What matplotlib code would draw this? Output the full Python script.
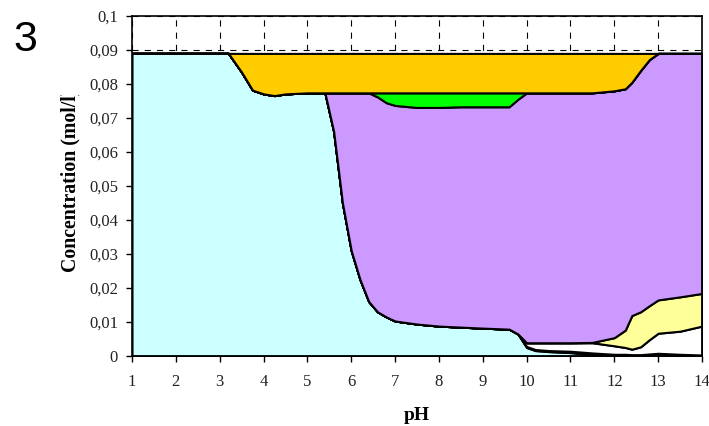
import numpy as np
import matplotlib
matplotlib.use("Agg")
import matplotlib.pyplot as plt
from matplotlib.transforms import Bbox, TransformedBbox
from matplotlib.ticker import FuncFormatter, MultipleLocator

# pH grid and concentration of each species (mol/l), stacked bottom to top
ph = [1, 2, 3, 3.2, 3.5, 3.75, 4, 4.25, 4.5, 5,
      5.4, 5.6, 5.8, 6, 6.2, 6.4, 6.6, 6.8, 7, 7.5,
      8, 8.5, 9, 9.6, 9.8, 10, 10.2, 10.5, 11, 11.5,
      12, 12.25, 12.4, 12.6, 12.8, 13, 13.5, 14]

cyan = [0.089, 0.089, 0.089, 0.089, 0.0835, 0.0782, 0.0771, 0.0766, 0.0771, 0.0774,
        0.0774, 0.066, 0.045, 0.031, 0.0225, 0.016, 0.013, 0.0115, 0.0103, 0.0094,
        0.0088, 0.0085, 0.0082, 0.0079, 0.0065, 0.0025, 0.0016, 0.0013, 0.0010, 0.0004,
        0, 0, 0, 0, 0, 0, 0, 0]

dark = [0, 0, 0, 0, 0, 0, 0, 0, 0, 0,
        0, 0, 0, 0, 0, 0, 0, 0, 0, 0,
        0, 0, 0, 0, 0, 0.0003, 0.0003, 0.0003, 0.0004, 0.0005,
        0.0005, 0.0005, 0.0004, 0.0004, 0.0006, 0.0008, 0.0005, 0.0003]

white = [0, 0, 0, 0, 0, 0, 0, 0, 0, 0,
         0, 0, 0, 0, 0, 0, 0, 0, 0, 0,
         0, 0, 0, 0, 0, 0.0011, 0.0020, 0.0023, 0.0025, 0.0030,
         0.0025, 0.0020, 0.0016, 0.0023, 0.0042, 0.0059, 0.0068, 0.0085]

yellow = [0, 0, 0, 0, 0, 0, 0, 0, 0, 0,
          0, 0, 0, 0, 0, 0, 0, 0, 0, 0,
          0, 0, 0, 0, 0, 0, 0, 0, 0, 0.0001,
          0.0024, 0.0051, 0.0099, 0.0103, 0.0100, 0.0098, 0.0101, 0.0096]

purple = [0, 0, 0, 0, 0, 0, 0, 0, 0, 0,
          0, 0.0114, 0.0324, 0.0464, 0.0549, 0.0614, 0.0632, 0.0630, 0.0634, 0.0637,
          0.0643, 0.0648, 0.0651, 0.0654, 0.0690, 0.0735, 0.0735, 0.0735, 0.0735, 0.0734,
          0.0726, 0.0710, 0.0686, 0.0710, 0.0724, 0.0725, 0.0716, 0.0706]

green = [0, 0, 0, 0, 0, 0, 0, 0, 0, 0,
         0, 0, 0, 0, 0, 0, 0.0012, 0.0029, 0.0037, 0.0043,
         0.0043, 0.0041, 0.0041, 0.0041, 0.0019, 0, 0, 0, 0, 0,
         0, 0, 0, 0, 0, 0, 0, 0]

orange = [0, 0, 0, 0, 0.0055, 0.0108, 0.0119, 0.0124, 0.0119, 0.0116,
          0.0116, 0.0116, 0.0116, 0.0116, 0.0116, 0.0116, 0.0116, 0.0116, 0.0116, 0.0116,
          0.0116, 0.0116, 0.0116, 0.0116, 0.0116, 0.0116, 0.0116, 0.0116, 0.0116, 0.0116,
          0.0110, 0.0104, 0.0085, 0.0050, 0.0018, 0, 0, 0]

colors = ['#CCFFFF', '#0A3A0A', '#FFFFFF', '#FFFF99', '#CC99FF', '#00FF00', '#FFCC00']

serif = 'Liberation Serif'

fig = plt.figure(figsize=(7.09, 4.26), dpi=100)
ax = fig.add_axes([132 / 709, 70 / 426, 570 / 709, 340 / 426])

ax.set_axisbelow(True)
ax.grid(True, color='black', linewidth=0.8, linestyle=(0, (5.5, 5.5)))
ax.stackplot(ph, cyan, dark, white, yellow, purple, green, orange,
             colors=colors, edgecolor='black', linewidth=1.5)

ax.set_xlim(1, 14)
ax.set_ylim(0, 0.1)
ax.xaxis.set_major_locator(MultipleLocator(1))
ax.yaxis.set_major_locator(MultipleLocator(0.01))


def comma_fmt(v, pos):
    s = f'{v:.2f}'.rstrip('0').rstrip('.')
    return s.replace('.', ',')


ax.yaxis.set_major_formatter(FuncFormatter(comma_fmt))
ax.tick_params(direction='out', length=4, width=1, labelsize=12)
ax.tick_params(axis='x', pad=9)
ax.tick_params(axis='y', pad=6)
for lab in ax.get_xticklabels() + ax.get_yticklabels():
    lab.set_family(serif)
    lab.set_color('#222222')
for sp in ax.spines.values():
    sp.set_color('black')
    sp.set_linewidth(1.2)

fig.text(417 / 709, 11 / 426, 'pH', family=serif, fontweight='bold',
         fontsize=14, ha='center', va='center')

# axis title is cut off at the top in the original
ylab = fig.text(70 / 709, (426 - 180.5) / 426, 'Concentration (mol/l)', family=serif,
                fontweight='bold', fontsize=14.3, rotation=90,
                ha='center', va='center')
ylab.set_clip_box(TransformedBbox(Bbox([[0, 0], [1, (426 - 95) / 426]]),
                                  fig.transFigure))
ylab.set_clip_on(True)

fig.text(25 / 709, (426 - 40) / 426, '3', family='Liberation Sans',
         fontsize=31, ha='center', va='center')

fig.savefig('out.png', dpi=100)
